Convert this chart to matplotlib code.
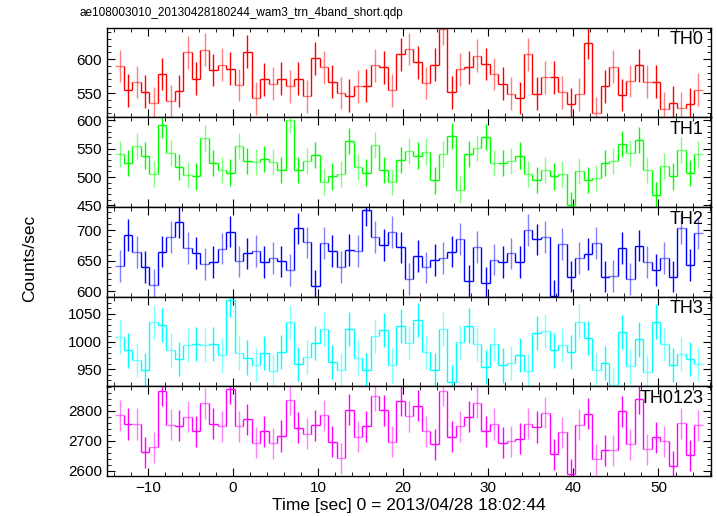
import numpy as np
import matplotlib
matplotlib.use('Agg')
import matplotlib.pyplot as plt
from matplotlib.ticker import MultipleLocator
from matplotlib.colors import to_rgba

plt.rcParams['font.family'] = ['Liberation Sans', 'DejaVu Sans']

# 1 s bins, left edge of the first bin at -13.8 s
t_start = -13.8
bin_width = 1.0

th0 = [590, 554, 566, 552, 535, 578, 538, 553, 610, 571, 614, 584, 592, 586, 562, 611,
       542, 570, 564, 571, 560, 571, 545, 601, 588, 567, 550, 546, 560, 561, 591, 588,
       554, 607, 615, 595, 565, 592, 645, 551, 585, 588, 605, 593, 578, 564, 549, 543,
       607, 549, 573, 573, 551, 534, 548, 624, 520, 560, 589, 547, 568, 591, 567, 567,
       527, 536, 528, 534, 555]
th1 = [541, 525, 555, 538, 506, 591, 542, 517, 504, 501, 569, 525, 513, 508, 555, 529,
       527, 532, 527, 513, 601, 513, 528, 539, 492, 501, 505, 564, 518, 508, 557, 513,
       492, 530, 546, 538, 545, 494, 541, 572, 478, 541, 552, 571, 525, 524, 528, 538,
       505, 495, 513, 501, 506, 450, 511, 495, 499, 524, 528, 559, 542, 566, 513, 469,
       520, 501, 548, 507, 541]
th2 = [641, 692, 664, 640, 611, 665, 689, 713, 671, 663, 645, 648, 670, 698, 649, 662,
       666, 648, 654, 649, 635, 703, 680, 609, 679, 666, 640, 668, 666, 733, 689, 676,
       697, 672, 620, 658, 639, 651, 654, 665, 686, 617, 673, 614, 652, 648, 662, 648,
       701, 685, 689, 593, 678, 624, 655, 661, 679, 624, 625, 671, 620, 675, 648, 635,
       654, 624, 703, 643, 696]
th3 = [1009, 984, 967, 948, 1035, 1030, 984, 969, 994, 995, 994, 996, 975, 1076, 979, 971,
       958, 979, 946, 981, 1035, 959, 972, 998, 1023, 963, 948, 1023, 971, 948, 1010, 1021,
       957, 1028, 997, 1039, 981, 949, 1023, 927, 999, 1029, 995, 954, 995, 957, 961, 976,
       946, 1015, 1019, 984, 994, 981, 1036, 1007, 948, 961, 922, 1017, 955, 1004, 945, 1036,
       995, 958, 977, 969, 959]
th0123 = [2786, 2756, 2756, 2661, 2678, 2868, 2753, 2750, 2780, 2732, 2826, 2757, 2749, 2874,
          2748, 2772, 2693, 2731, 2691, 2716, 2838, 2744, 2724, 2752, 2786, 2696, 2641, 2804,
          2714, 2748, 2850, 2802, 2696, 2834, 2782, 2818, 2731, 2688, 2868, 2714, 2748, 2781,
          2828, 2731, 2756, 2693, 2699, 2706, 2757, 2746, 2794, 2654, 2728, 2588, 2754, 2790,
          2638, 2668, 2668, 2799, 2689, 2840, 2671, 2711, 2698, 2614, 2758, 2651, 2752]

names = ['TH0', 'TH1', 'TH2', 'TH3', 'TH0123']
series = [th0, th1, th2, th3, th0123]
errors = [24, 23, 26, 31, 52]
colors = ['#ff0000', '#00ff00', '#0000ff', '#00ffff', '#ff00ff']
ylims = [(514, 646), (447, 605), (591, 738), (919, 1081), (2582, 2882)]
ymajor = [50, 50, 50, 50, 100]
yminor = [10, 10, 10, 10, 20]

fig, axes = plt.subplots(5, 1, sharex=True, figsize=(7.17, 5.16), dpi=100)
fig.subplots_adjust(left=0.149, right=0.992, top=0.946, bottom=0.0775, hspace=0)

for ax, name, y, err, c, yl, ma, mi in zip(axes, names, series, errors, colors, ylims, ymajor, yminor):
    y = np.array(y, dtype=float)
    n = len(y)
    left = t_start + bin_width * np.arange(n)
    right = left + bin_width
    mid = left + bin_width / 2
    # alternate full / faded bins like the qdp output
    cols = [to_rgba(c, 1.0 if i % 2 else 0.5) for i in range(n)]
    ax.hlines(y, left, right, colors=cols, lw=1.0)
    ax.vlines(mid, y - err, y + err, colors=cols, lw=1.0)
    ax.vlines(right[:-1], np.minimum(y[:-1], y[1:]), np.maximum(y[:-1], y[1:]),
              colors=c, lw=1.0)
    ax.set_ylim(*yl)
    ax.set_xlim(-14.8, 56.2)
    ax.yaxis.set_major_locator(MultipleLocator(ma))
    ax.yaxis.set_minor_locator(MultipleLocator(mi))
    ax.xaxis.set_major_locator(MultipleLocator(10))
    ax.xaxis.set_minor_locator(MultipleLocator(2))
    ax.tick_params(which='both', direction='in', top=True, right=True, labelsize=11)
    ax.tick_params(which='major', length=6)
    ax.tick_params(which='minor', length=3)
    for s in ax.spines.values():
        s.set_linewidth(1.0)
    ax.text(0.987, 0.96, name, transform=ax.transAxes, ha='right', va='top', fontsize=13)

axes[-1].set_xlabel('Time [sec] 0 = 2013/04/28 18:02:44', fontsize=12.5, labelpad=2)
fig.text(0.042, 0.5, 'Counts/sec', rotation=90, ha='center', va='center', fontsize=12.5)
fig.text(80 / 717, 1 - 13 / 516, 'ae108003010_20130428180244_wam3_trn_4band_short.qdp',
         ha='left', va='center', fontsize=8.5)

plt.savefig('out.png', dpi=100)
